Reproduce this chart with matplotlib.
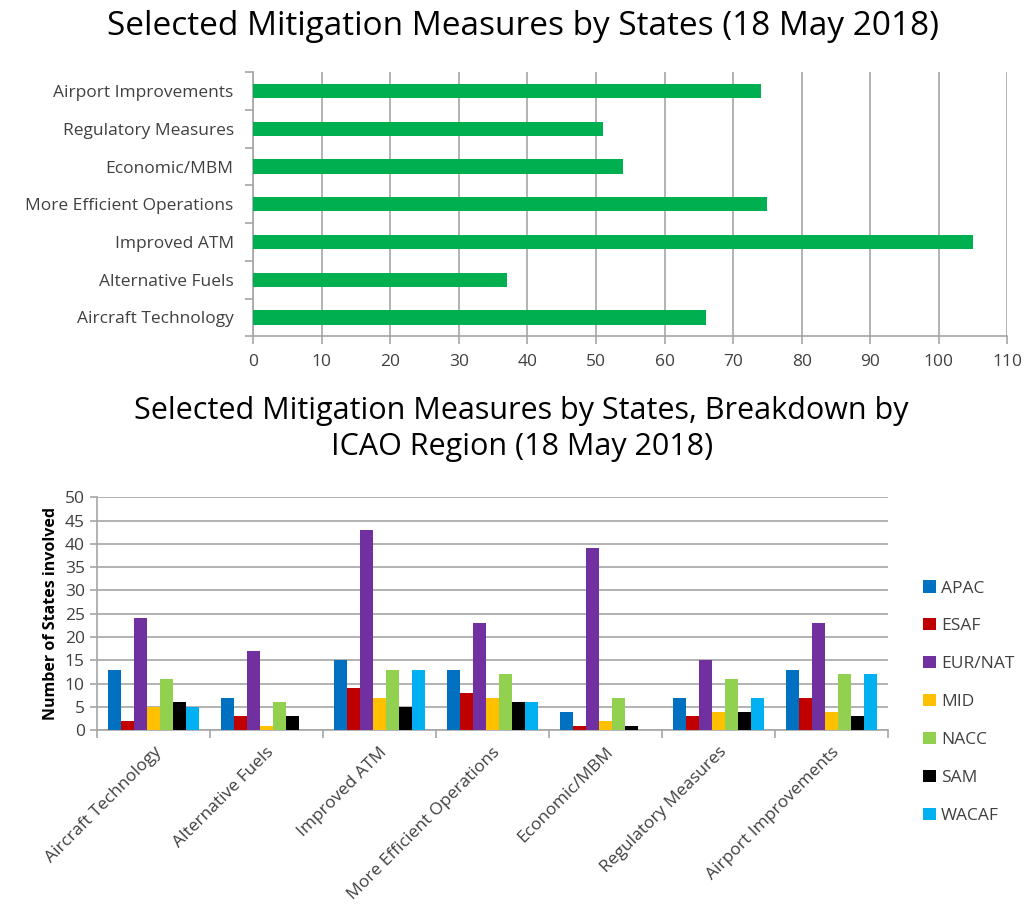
import matplotlib
matplotlib.use("Agg")
import matplotlib.pyplot as plt
import numpy as np

plt.rcParams['font.family'] = ['Open Sans', 'DejaVu Sans']

# Top chart data
top_categories = ["Aircraft Technology", "Alternative Fuels", "Improved ATM",
                  "More Efficient Operations", "Economic/MBM", "Regulatory Measures",
                  "Airport Improvements"]
top_values = [66, 37, 105, 75, 54, 51, 74]

# Bottom chart data
regions = ["APAC", "ESAF", "EUR/NAT", "MID", "NACC", "SAM", "WACAF"]
region_colors = ["#0070C0", "#C00000", "#7030A0", "#FFC000", "#92D050", "#000000", "#00B0F0"]
apac = [13, 7, 15, 13, 4, 7, 13]
esaf = [2, 3, 9, 8, 1, 3, 7]
eurnat = [24, 17, 43, 23, 39, 15, 23]
mid = [5, 1, 7, 7, 2, 4, 4]
nacc = [11, 6, 13, 12, 7, 11, 12]
sam = [6, 3, 5, 6, 1, 4, 3]
wacaf = [5, 0, 13, 6, 0, 7, 12]
series = [apac, esaf, eurnat, mid, nacc, sam, wacaf]

grid_c = "#A6A6A6"
text_c = "#404040"

fig = plt.figure(figsize=(10.29, 9.14), dpi=100)

# ---- Top chart ----
ax1 = fig.add_axes([0.246, 0.632, 0.733, 0.289])
y = np.arange(len(top_categories))
ax1.barh(y, top_values, height=0.38, color="#00B050", zorder=3)
ax1.set_xlim(0, 110)
ax1.set_ylim(-0.5, len(top_categories) - 0.5)
ax1.set_xticks(np.arange(0, 111, 10))
ax1.set_yticks(y)
ax1.set_yticklabels(top_categories)
ax1.set_yticks(np.arange(-0.5, len(top_categories), 1), minor=True)
ax1.tick_params(axis='y', which='major', length=0, pad=14, labelsize=12.5, labelcolor=text_c)
ax1.tick_params(axis='y', which='minor', length=6, color=grid_c, width=1.2)
ax1.tick_params(axis='x', length=6, color=grid_c, width=1.2, labelsize=12.5, labelcolor=text_c, pad=7)
ax1.grid(axis='x', color=grid_c, linewidth=1.2, zorder=0)
for s in ['top', 'right']:
    ax1.spines[s].set_visible(False)
for s in ['left', 'bottom']:
    ax1.spines[s].set_color(grid_c)
    ax1.spines[s].set_linewidth(1.2)
fig.text(0.508, 0.971, "Selected Mitigation Measures by States (18 May 2018)",
         ha='center', va='center', fontsize=24, color="#000000")

# ---- Bottom chart ----
ax2 = fig.add_axes([0.094, 0.201, 0.769, 0.255])
x = np.arange(len(top_categories))
n = len(regions)
bw = 0.115
for i, (vals, name, col) in enumerate(zip(series, regions, region_colors)):
    ax2.bar(x + (i - (n - 1) / 2) * bw, vals, width=bw, color=col, label=name, zorder=3)
ax2.set_xlim(-0.5, len(top_categories) - 0.5)
ax2.set_ylim(0, 50)
ax2.set_yticks(np.arange(0, 51, 5))
ax2.set_xticks(x)
ax2.set_xticklabels(top_categories, rotation=45, ha='right', rotation_mode='anchor')
ax2.set_xticks(np.arange(-0.5, len(top_categories), 1), minor=True)
ax2.tick_params(axis='x', which='major', length=0, pad=10, labelsize=12.5, labelcolor=text_c)
ax2.tick_params(axis='x', which='minor', length=6, color=grid_c, width=1.2)
ax2.tick_params(axis='y', length=5, color=grid_c, width=1.2, labelsize=12.5, labelcolor=text_c)
ax2.grid(axis='y', color=grid_c, linewidth=1.2, zorder=0)
for s in ['top', 'right']:
    ax2.spines[s].set_visible(False)
for s in ['left', 'bottom']:
    ax2.spines[s].set_color(grid_c)
    ax2.spines[s].set_linewidth(1.2)
ax2.set_ylabel("Number of States involved", fontsize=11.5, fontweight='bold', color="#000000", labelpad=4)
leg = ax2.legend(loc='upper left', bbox_to_anchor=(1.025, 0.71), frameon=False,
                 handlelength=0.7, handleheight=0.7, handletextpad=0.3,
                 labelspacing=1.25, fontsize=12.5)
for t in leg.get_texts():
    t.set_color(text_c)
fig.text(0.507, 0.531, "Selected Mitigation Measures by States, Breakdown by\nICAO Region (18 May 2018)",
         ha='center', va='center', fontsize=22, color="#000000", linespacing=1.25)

fig.savefig("out.png", dpi=100)
